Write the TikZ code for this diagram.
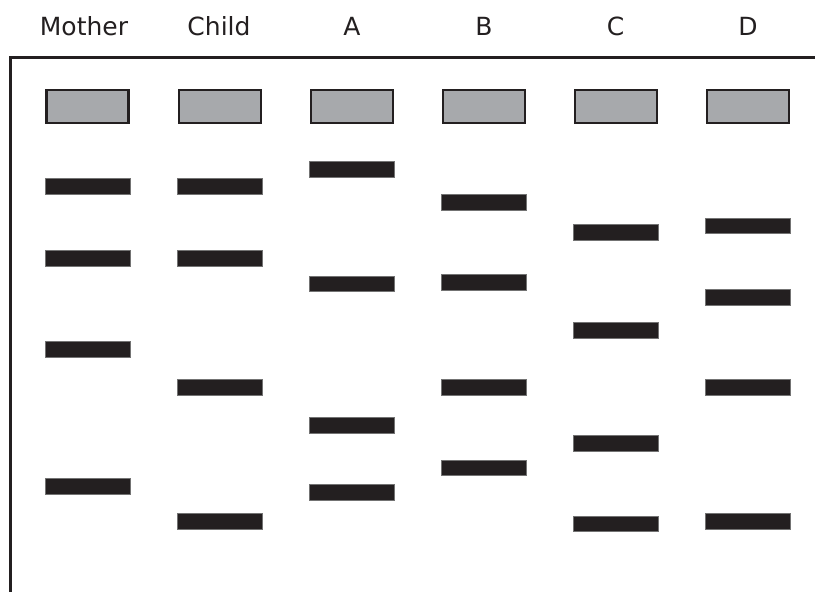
\documentclass[tikz,border=0pt]{standalone}
\usepackage{fontspec}
\setmainfont{DejaVu Sans}
\usepackage{tikz}

\definecolor{bandink}{HTML}{231F20}
\definecolor{wellgray}{HTML}{A7A9AC}

\tikzset{
  lane/.style={font=\fontsize{25}{30}\selectfont, text=bandink, inner sep=0pt},
  well/.style={draw=bandink, line width=2.5pt, fill=wellgray, inner sep=0pt,
               minimum width=82pt, minimum height=33pt},
  band/.style={draw=black!55, line width=0.6pt, fill=bandink, inner sep=0pt,
               minimum width=85pt, minimum height=15.5pt}
}

\begin{document}
\begin{tikzpicture}[x=1pt, y=-1pt]
    \useasboundingbox (0,0) rectangle (815,592);

    \node[lane] (mother) at (84, 26){Mother};
    \node[lane] (child) at (219, 26){Child};
    \node[lane] (a) at (352, 26){A};
    \node[lane] (b) at (484, 26){B};
    \node[lane] (c) at (615.5, 26){C};
    \node[lane] (d) at (748, 26){D};

    \coordinate (gelbottom) at (10.7, 592);
    \coordinate (gelcorner) at (10.7, 57.3);
    \coordinate (gelright) at (815, 57.3);
    \draw[line width=2.6pt, color=bandink] (gelbottom) -- (gelcorner) -- (gelright);

    \node[well] (mw) at (87.5, 106.5){};
    \node[well] (cw) at (220, 106.5){};
    \node[well] (aw) at (352, 106.5){};
    \node[well] (bw) at (484, 106.5){};
    \node[well] (cw') at (616, 106.5){};
    \node[well] (dw) at (748, 106.5){};

    \node[band] (m1) at (87.5, 186.5){};
    \node[band] (m2) at (87.5, 258.3){};
    \node[band] (m3) at (87.5, 349.2){};
    \node[band] (m4) at (87.5, 486.5){};

    \node[band] (k1) at (220, 186.5){};
    \node[band] (k2) at (220, 258.3){};
    \node[band] (k3) at (220, 387.2){};
    \node[band] (k4) at (220, 521.2){};

    \node[band] (a1) at (352, 169.3){};
    \node[band] (a2) at (352, 283.8){};
    \node[band] (a3) at (352, 425.3){};
    \node[band] (a4) at (352, 492.3){};

    \node[band] (b1) at (484, 202.3){};
    \node[band] (b2) at (484, 282.3){};
    \node[band] (b3) at (484, 387.2){};
    \node[band] (b4) at (484, 468){};

    \node[band] (c1) at (616, 232.3){};
    \node[band] (c2) at (616, 330.3){};
    \node[band] (c3) at (616, 443.5){};
    \node[band] (c4) at (616, 524){};

    \node[band] (d1) at (748, 225.8){};
    \node[band] (d2) at (748, 297.2){};
    \node[band] (d3) at (748, 387.2){};
    \node[band] (d4) at (748, 521.3){};
\end{tikzpicture}
\end{document}
